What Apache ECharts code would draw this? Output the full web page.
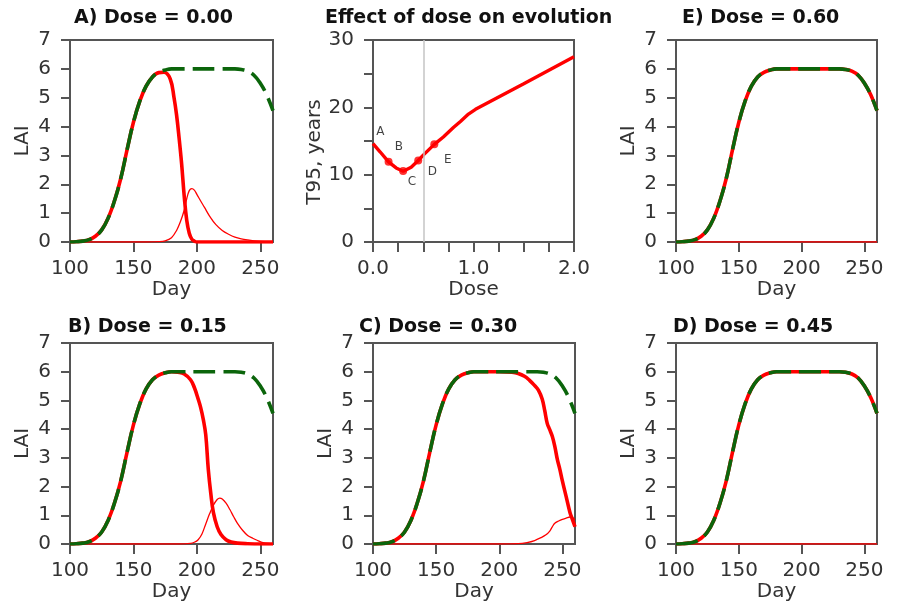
<!DOCTYPE html>
<html>
<head>
<meta charset="utf-8">
<script src="https://cdn.jsdelivr.net/npm/echarts@6/dist/echarts.min.js"></script>
<style>
html,body{margin:0;padding:0;background:#fff;}
#chart{width:901px;height:608px;}
</style>
</head>
<body>
<div id="chart"></div>
<script>
// ---------- data ----------
// healthy crop LAI (green dashed), same in every panel
const dayHealthy = [100,105,110,115,120,125,130,135,140,145,150,155,160,165,170,175,180,185,190,195,200,205,210,215,220,225,230,235,240,245,250,255,260];
const healthyLAI = [0,0.01,0.03,0.08,0.2,0.42,0.82,1.42,2.2,3.2,4.15,4.88,5.4,5.72,5.88,5.96,6.0,6.0,6.0,6.0,6.0,6.0,6.0,6.0,6.0,6.0,6.0,5.98,5.92,5.78,5.5,5.1,4.55];

// Panel A (dose 0.00)
const dayA = [100,105,110,115,120,125,130,135,140,145,150,155,160,165,170,174,179,182,184,186,188,190,192,194,196,198,200,210,220,230,240,250,260];
const totalA = [0,0.01,0.03,0.08,0.2,0.42,0.82,1.42,2.2,3.2,4.15,4.88,5.4,5.72,5.87,5.88,5.65,5.0,4.4,3.6,2.7,1.6,0.75,0.3,0.1,0.03,0,0,0,0,0,0,0];
const dayA2 = [100,160,170,175,180,184,187,190,192,194,196,198,200,203,206,210,215,220,225,230,235,240,245,250,255,260];
const diseaseA = [0,0,0.01,0.04,0.15,0.4,0.7,1.1,1.5,1.78,1.85,1.8,1.65,1.42,1.2,0.9,0.6,0.4,0.27,0.17,0.11,0.07,0.04,0.02,0.01,0];

// Panel B (dose 0.15)
const dayB = [100,105,110,115,120,125,130,135,140,145,150,155,160,165,170,175,180,185,190,195,198,201,203,205,207,209,211,213,216,219,223,227,232,240,250,260];
const totalB = [0,0.01,0.03,0.08,0.2,0.42,0.82,1.42,2.2,3.2,4.15,4.88,5.4,5.72,5.88,5.96,6.0,5.98,5.92,5.72,5.45,5.05,4.75,4.35,3.8,2.6,1.75,1.1,0.6,0.33,0.15,0.07,0.03,0.01,0,0];
const dayB2 = [100,185,195,198,201,204,207,210,213,216,218,220,223,226,229,232,236,240,244,248,252,256,260];
const diseaseB = [0,0,0.02,0.06,0.15,0.35,0.7,1.05,1.35,1.55,1.6,1.57,1.42,1.2,0.95,0.72,0.48,0.3,0.2,0.12,0.05,0.02,0.01];

// Panel C (dose 0.30)
const dayC = [100,105,110,115,120,125,130,135,140,145,150,155,160,165,170,175,180,190,200,210,215,220,224,228,231,234,236,238,240,242,244,246,248,250,253,256,258,260];
const totalC = [0,0.01,0.03,0.08,0.2,0.42,0.82,1.42,2.2,3.2,4.15,4.88,5.4,5.72,5.88,5.96,6.0,6.0,6.0,5.98,5.94,5.84,5.7,5.52,5.36,5.05,4.65,4.2,3.98,3.75,3.4,2.95,2.6,2.2,1.65,1.1,0.85,0.6];
const dayC2 = [100,200,215,222,228,233,237,240,242,244,247,250,253,256,258,260];
const diseaseC = [0,0,0.01,0.05,0.12,0.22,0.32,0.45,0.6,0.72,0.8,0.86,0.9,0.94,0.92,0.85];

// Panels D (0.45) and E (0.60): total equals healthy, disease stays at zero
const dayZero = [100,260];
const diseaseZero = [0,0];

// Middle panel: effect of dose on evolution
const doseX = [0,0.07,0.155,0.23,0.30,0.38,0.45,0.5,0.61,0.7,0.8,0.87,0.95,1.02,1.5,2.0];
const t95 = [14.6,13.4,11.9,11.0,10.5,11.1,12.1,12.9,14.5,15.6,17.0,17.9,19.0,19.7,23.5,27.5];
const pointDose = [0.155,0.30,0.45,0.61];
const pointT95 = [11.9,10.55,12.1,14.5];
const letterText = ['A','B','C','D','E'];
const letterX = [0.072,0.258,0.387,0.59,0.745];
const letterY = [16.3,14.15,8.96,10.44,12.18];
const refDose = 0.5;

const titles = ['A) Dose = 0.00','Effect of dose on evolution','E) Dose = 0.60','B) Dose = 0.15','C) Dose = 0.30','D) Dose = 0.45'];
const dayTicks = [100,150,200,250];
const laiTicks = [0,1,2,3,4,5,6,7];
const doseTicks = [0,0.25,0.5,0.75,1,1.25,1.5,1.75,2];
const doseLabels = [0,1,2];
const t95Ticks = [0,5,10,15,20,25,30];
const t95Labels = [0,10,20,30];

// ---------- chart ----------
const FONT = 'DejaVu Sans';
const AX = '#555';
const TXT = '#333';
const RED = '#ff0000';
const GREEN = '#0b650b';

const zip = (xs, ys) => xs.map((x, i) => [x, ys[i]]);

const grids = [
  {left:70, top:40, width:203, height:202},
  {left:373, top:40, width:201, height:202},
  {left:676, top:40, width:201, height:202},
  {left:70, top:343, width:203, height:201},
  {left:373, top:343, width:202, height:201},
  {left:676, top:343, width:201, height:201}
].map(g => Object.assign(g, {show:true, borderColor:AX, borderWidth:2, backgroundColor:'transparent'}));

const titlePos = [[74,9],[325,9],[682,9],[68,318],[359,318],[673,318]];

function xAxisFor(gi, isDose) {
  return {
    type:'value', gridIndex:gi,
    min: isDose ? 0 : 100, max: isDose ? 2 : 260,
    name: isDose ? 'Dose' : 'Day', nameLocation:'middle', nameGap:37,
    nameTextStyle:{fontFamily:FONT, fontSize:20, color:TXT},
    axisLine:{show:true, lineStyle:{color:AX, width:2}},
    axisTick:{show:true, length:10, lineStyle:{color:AX, width:2}, customValues: isDose ? doseTicks : dayTicks},
    axisLabel:{show:true, margin:17, fontFamily:FONT, fontSize:20, color:TXT,
      customValues: isDose ? doseLabels : dayTicks,
      formatter: v => isDose ? Number(v).toFixed(1) : String(v)},
    splitLine:{show:false}
  };
}
function yAxisFor(gi, isT95) {
  return {
    type:'value', gridIndex:gi,
    min:0, max: isT95 ? 30 : 7,
    name: isT95 ? 'T95, years' : 'LAI', nameLocation:'middle', nameGap: isT95 ? 44 : 37,
    nameTextStyle: isT95
      ? {fontFamily:FONT, fontSize:20, color:TXT, padding:[0,22,0,0]}
      : {fontFamily:FONT, fontSize:20, color:TXT},
    axisLine:{show:true, lineStyle:{color:AX, width:2}},
    axisTick:{show:true, length:9, lineStyle:{color:AX, width:2}, customValues: isT95 ? t95Ticks : laiTicks},
    axisLabel:{show:true, margin:19, fontFamily:FONT, fontSize:20, color:TXT,
      customValues: isT95 ? t95Labels : laiTicks},
    splitLine:{show:false}
  };
}

const xAxes = [0,1,2,3,4,5].map(i => xAxisFor(i, i === 1));
const yAxes = [0,1,2,3,4,5].map(i => yAxisFor(i, i === 1));

function thin(gi, xs, ys) {
  return {type:'line', xAxisIndex:gi, yAxisIndex:gi, data:zip(xs, ys), showSymbol:false, symbol:'none',
    smooth:0.35, lineStyle:{color:RED, width:1.3}, z:2, silent:true};
}
function thick(gi, xs, ys) {
  return {type:'line', xAxisIndex:gi, yAxisIndex:gi, data:zip(xs, ys), showSymbol:false, symbol:'none',
    smooth:0.4, lineStyle:{color:RED, width:3.6}, z:3, silent:true};
}
function healthy(gi) {
  return {type:'line', xAxisIndex:gi, yAxisIndex:gi, data:zip(dayHealthy, healthyLAI), showSymbol:false, symbol:'none',
    smooth:0.45, lineStyle:{color:GREEN, width:3.6, type:[22,8]}, z:4, silent:true};
}

const series = [
  // A
  thin(0, dayA2, diseaseA), thick(0, dayA, totalA), healthy(0),
  // E
  thin(2, dayZero, diseaseZero), thick(2, dayHealthy, healthyLAI), healthy(2),
  // B
  thin(3, dayB2, diseaseB), thick(3, dayB, totalB), healthy(3),
  // C
  thin(4, dayC2, diseaseC), thick(4, dayC, totalC), healthy(4),
  // D
  thin(5, dayZero, diseaseZero), thick(5, dayHealthy, healthyLAI), healthy(5),
  // middle
  {type:'line', xAxisIndex:1, yAxisIndex:1, data:zip(doseX, t95), showSymbol:false, symbol:'none',
    lineStyle:{color:RED, width:3.4}, z:3, silent:true,
    markLine:{silent:true, symbol:'none', label:{show:false},
      lineStyle:{color:'#c4c4c4', width:1.5, type:'solid'}, data:[{xAxis:refDose}]}},
  {type:'scatter', xAxisIndex:1, yAxisIndex:1, data:zip(pointDose, pointT95), symbol:'circle', symbolSize:8,
    itemStyle:{color:RED}, z:4, silent:true},
  {type:'scatter', xAxisIndex:1, yAxisIndex:1, data:zip(letterX, letterY).map((p, i) => ({value:p, name:letterText[i]})),
    symbolSize:1, itemStyle:{color:'rgba(0,0,0,0)'}, z:5, silent:true,
    label:{show:true, position:'inside', formatter: p => p.name, fontFamily:FONT, fontSize:12, color:'#111'}}
];

const option = {
  animation:false,
  backgroundColor:'#fff',
  title: titles.map((t, i) => ({text:t, left:titlePos[i][0], top:titlePos[i][1], padding:0,
    textStyle:{fontFamily:FONT, fontSize:19, fontWeight:'bold', color:'#111'}})),
  grid: grids,
  xAxis: xAxes,
  yAxis: yAxes,
  series: series
};

const chart = echarts.init(document.getElementById('chart'), null, {renderer:'canvas'});
chart.setOption(option);
</script>
</body>
</html>
